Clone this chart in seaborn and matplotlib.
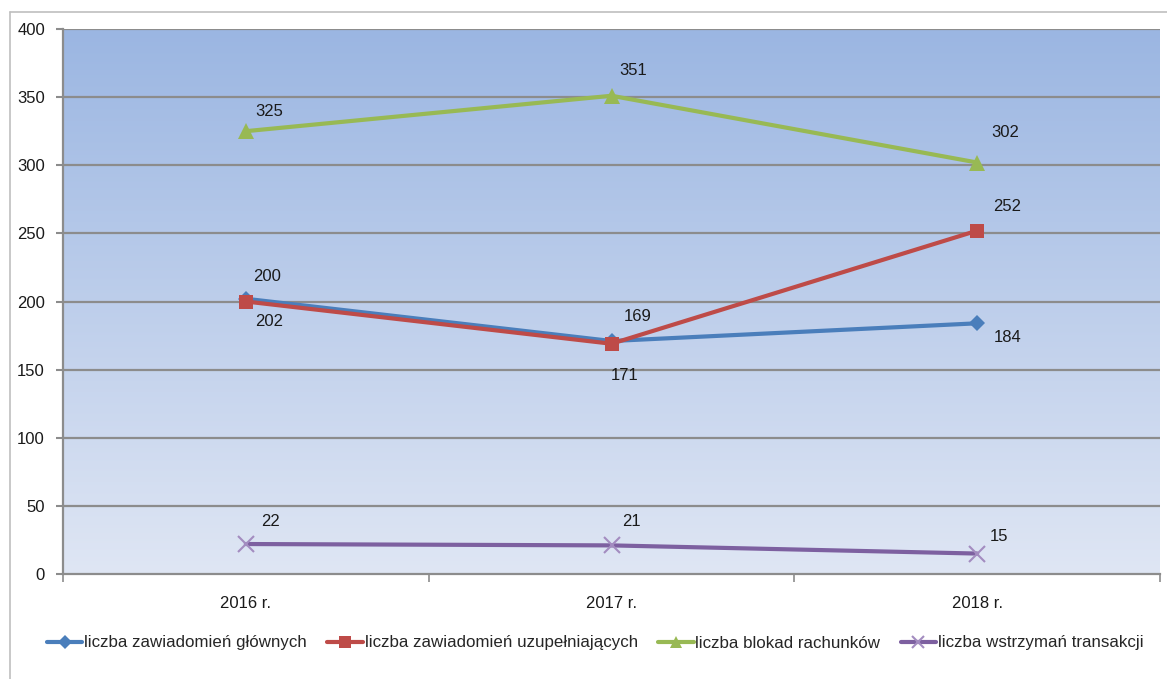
import numpy as np
import pandas as pd
import matplotlib
matplotlib.use("Agg")
import matplotlib.pyplot as plt
from matplotlib.lines import Line2D
import seaborn as sns

years = ["2016 r.", "2017 r.", "2018 r."]
zawiadomienia_glowne = [202, 171, 184]
zawiadomienia_uzupelniajace = [200, 169, 252]
blokady_rachunkow = [325, 351, 302]
wstrzymania_transakcji = [22, 21, 15]

series_names = [
    "liczba zawiadomień głównych",
    "liczba zawiadomień uzupełniających",
    "liczba blokad rachunków",
    "liczba wstrzymań transakcji",
]
series_values = [zawiadomienia_glowne, zawiadomienia_uzupelniajace,
                 blokady_rachunkow, wstrzymania_transakcji]
colors = ["#4A7EBB", "#BE4B48", "#98B954", "#7D60A0"]
markers = ["D", "s", "^", "x"]
marker_sizes = [8, 10, 11, 11]

# value label offsets in pixels (dx right, dy down) per series and year
label_offsets = [
    [(23, 23), (13, 34), (30, 14)],
    [(21, -25), (26, -27), (30, -24)],
    [(23, -20), (22, -25), (28, -30)],
    [(25, -23), (20, -24), (22, -17)],
]

sns.set_theme(style="white")
plt.rcParams["font.family"] = ["Liberation Sans Narrow", "Liberation Sans", "DejaVu Sans"]

fig = plt.figure(figsize=(11.67, 6.79), dpi=100)
ax = fig.add_axes([63 / 1167, 1 - 574 / 679, (1160 - 63) / 1167, (574 - 29) / 679])

# gradient background of the plot area (darker at the top)
grad = np.linspace(0, 1, 256).reshape(-1, 1)
cmap = matplotlib.colors.LinearSegmentedColormap.from_list("bg", ["#9BB6E2", "#DFE6F4"])
ax.imshow(grad, extent=[-0.5, 2.5, 0, 400], origin="upper", aspect="auto", cmap=cmap, zorder=0)

for y in range(50, 401, 50):
    ax.axhline(y, color="#8C8C8C", lw=1.6, zorder=1)

for name, vals, c, m, ms in zip(series_names, series_values, colors, markers, marker_sizes):
    d = pd.DataFrame({"rok": range(len(vals)), "wartosc": vals})
    kw = dict(markeredgewidth=1.5, markeredgecolor="#A38CC0") if m == "x" else dict(markeredgewidth=0)
    sns.lineplot(data=d, x="rok", y="wartosc", color=c, marker=m, markersize=ms,
                 lw=3.0, ax=ax, zorder=3, **kw)

for vals, offs in zip(series_values, label_offsets):
    for i, (v, (dx, dy)) in enumerate(zip(vals, offs)):
        ax.annotate(str(v), (i, v), xytext=(dx, -dy), textcoords="offset pixels",
                    ha="center", va="center", fontsize=12, color="#1A1A1A", zorder=5)

ax.set_xlim(-0.5, 2.5)
ax.set_ylim(0, 400)
ax.set_yticks(range(0, 401, 50))
ax.set_xticks([0, 1, 2])
ax.set_xticklabels(years)
ax.set_xlabel("")
ax.set_ylabel("")
ax.tick_params(axis="y", labelsize=12, length=5, width=1.5, color="#8C8C8C",
               left=True, pad=8, labelcolor="#1A1A1A")
ax.tick_params(axis="x", labelsize=12, length=0, pad=16, labelcolor="#1A1A1A")
ax.set_xticks([-0.5, 0.5, 1.5, 2.5], minor=True)
ax.tick_params(axis="x", which="minor", bottom=True, length=6, width=1.2, color="#8C8C8C")
for s in ["top", "right"]:
    ax.spines[s].set_visible(False)
for s in ["left", "bottom"]:
    ax.spines[s].set_color("#8C8C8C")
    ax.spines[s].set_linewidth(1.6)

# outer chart frame
fig.add_artist(Line2D([10 / 1167, 10 / 1167], [0, 1 - 12 / 679], color="#BFBFBF", lw=1.2))
fig.add_artist(Line2D([10 / 1167, 1], [1 - 12 / 679, 1 - 12 / 679], color="#BFBFBF", lw=1.2))

handles = [Line2D([], [], color=c, marker=m, lw=3.0, markersize=ms,
                  markeredgewidth=(1.5 if m == "x" else 0), markeredgecolor=("#A38CC0" if m == "x" else c))
           for c, m, ms in zip(colors, markers, [7, 9, 9, 9])]
fig.legend(handles, series_names, loc="center", bbox_to_anchor=(0.51, 1 - 643 / 679),
           ncol=4, frameon=False, fontsize=12.2, handlelength=2.1, handletextpad=0.1,
           columnspacing=1.2)

fig.savefig("out.png", dpi=100)
